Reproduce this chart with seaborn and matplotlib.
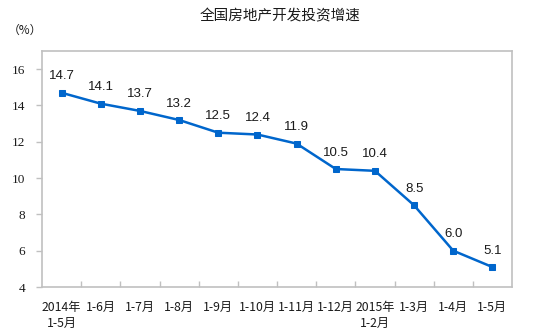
import matplotlib
matplotlib.use("Agg")
import matplotlib.pyplot as plt
from matplotlib.ticker import FixedLocator
import seaborn as sns
import pandas as pd

# Monthly cumulative growth of national real-estate development investment (%)
periods = ["2014年\n1-5月", "1-6月", "1-7月", "1-8月", "1-9月", "1-10月",
           "1-11月", "1-12月", "2015年\n1-2月", "1-3月", "1-4月", "1-5月"]
growth = [14.7, 14.1, 13.7, 13.2, 12.5, 12.4, 11.9, 10.5, 10.4, 8.5, 6.0, 5.1]
y_ticks = [4, 6, 8, 10, 12, 14, 16]

sns.set_theme(style="white")
plt.rcParams["font.family"] = ["Noto Sans CJK SC", "DejaVu Sans"]

df = pd.DataFrame({"pos": range(len(periods)), "growth": growth})

fig = plt.figure(figsize=(5.5, 3.36), dpi=100)
ax = fig.add_axes([0.0764, 0.1458, 0.8545, 0.7024])

line_color = "#0066CC"
sns.lineplot(data=df, x="pos", y="growth", ax=ax, color=line_color,
             linewidth=1.8, marker="s", markersize=4.8,
             markeredgecolor=line_color, markerfacecolor=line_color)

for x, v in zip(df["pos"], df["growth"]):
    ax.annotate(f"{v:.1f}", (x, v), xytext=(0, 7.5), textcoords="offset points",
                ha="center", va="bottom", fontsize=9.5, color="#1a1a1a",
                family=["Liberation Sans", "DejaVu Sans"])

ax.set_xlim(-0.5, len(periods) - 0.5)
ax.set_ylim(4, 17)
ax.set_yticks(y_ticks)
ax.set_yticklabels([str(t) for t in y_ticks], family=["Liberation Serif"],
                   fontsize=9.5, color="#1a1a1a")
ax.set_xticks(range(len(periods)))
ax.set_xticklabels(periods, fontsize=8.8, color="#1a1a1a", linespacing=1.3)
ax.xaxis.set_minor_locator(FixedLocator([i + 0.5 for i in range(len(periods) - 1)]))
ax.tick_params(axis="x", which="major", length=0, pad=10)
ax.tick_params(axis="x", which="minor", direction="in", length=4,
               color="#c0c0c0", width=1, bottom=True)
ax.tick_params(axis="y", which="major", direction="out", length=4,
               color="#c0c0c0", width=1, left=True, pad=8)
ax.set_xlabel("")
ax.set_ylabel("")

for s in ax.spines.values():
    s.set_visible(True)
    s.set_color("#c0c0c0")
    s.set_linewidth(1.2)

fig.text(0.51, 0.95, "全国房地产开发投资增速", ha="center", va="center",
         fontsize=10.5, color="#1a1a1a")
fig.text(0.045, 0.91, "（%）", ha="center", va="center", fontsize=8.5,
         color="#1a1a1a")

fig.savefig("out.png", dpi=100)
